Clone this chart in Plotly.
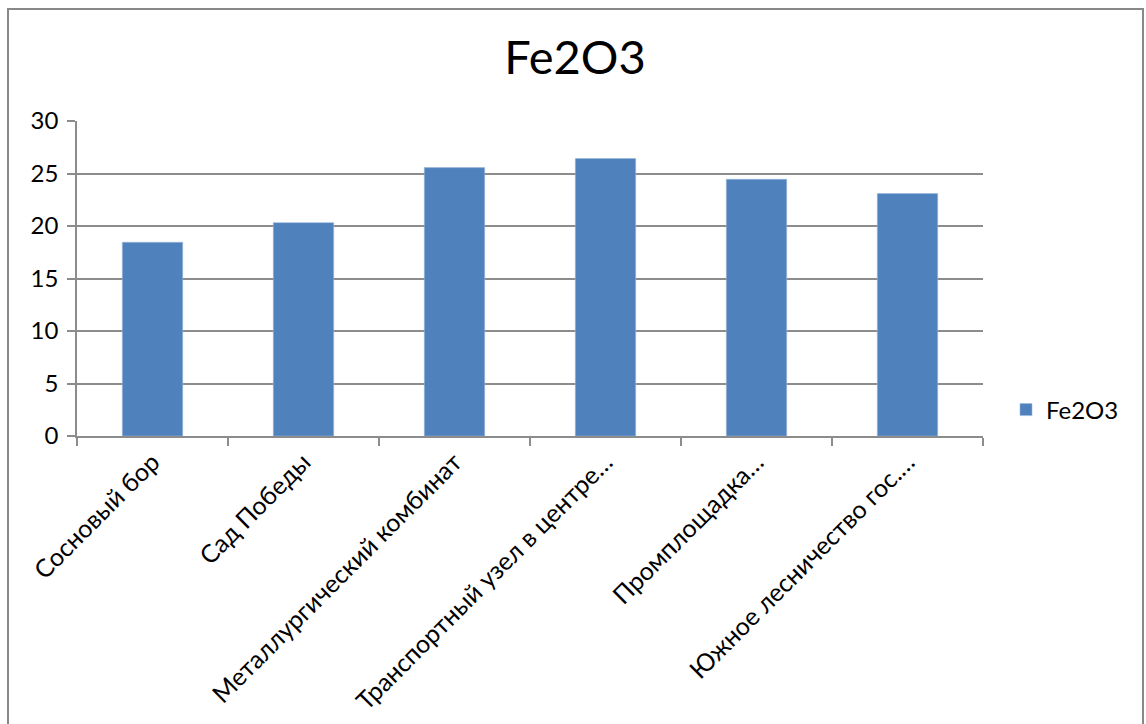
import plotly.graph_objects as go

# Fe2O3 content by sampling site
categories = [
    "Сосновый бор",
    "Сад Победы",
    "Металлургический комбинат",
    "Транспортный узел в центре…",
    "Промплощадка…",
    "Южное лесничество гос.…",
]
fe2o3 = [18.45, 20.32, 25.56, 26.42, 24.45, 23.09]
y_ticks = [0, 5, 10, 15, 20, 25, 30]

W, H = 1146, 724
ML, MR, MT, MB = 77, 163, 121, 288
pw, ph = W - ML - MR, H - MT - MB

FONT = "Lato, 'Open Sans', sans-serif"
GRID = "#8c8c8c"

fig = go.Figure()
fig.add_trace(go.Bar(
    x=categories,
    y=fe2o3,
    name="Fe2O3",
    marker=dict(color="#4f81bd", line=dict(color="#9bb7db", width=0.6)),
))

def px_x(p):
    return (p - ML) / pw

def px_y(p):
    return (H - MB - p) / ph

fig.update_layout(
    width=W, height=H,
    margin=dict(l=ML, r=MR, t=MT, b=MB, autoexpand=False),
    paper_bgcolor="white",
    plot_bgcolor="white",
    font=dict(family=FONT, size=24, color="black"),
    bargap=0.6,
    title=dict(
        text="Fe2O3",
        font=dict(family=FONT, size=47, color="black"),
        x=0.5017, xanchor="center",
        y=1 - 58 / H, yanchor="middle", yref="container",
        automargin=False,
    ),
    showlegend=True,
    legend=dict(
        x=px_x(1006), xanchor="left",
        y=px_y(410), yanchor="middle",
        font=dict(family=FONT, size=24, color="black"),
        bgcolor="rgba(0,0,0,0)",
        itemwidth=30,
    ),
    xaxis=dict(
        type="category",
        automargin=False,
        tickangle=-45,
        tickson="boundaries",
        ticks="outside", ticklen=8, tickcolor=GRID, tickwidth=1.5,
        showline=True, linecolor=GRID, linewidth=1.5,
        showgrid=False,
        tickfont=dict(family=FONT, size=25, color="black"),
    ),
    yaxis=dict(
        range=[0, 30],
        automargin=False,
        tickvals=y_ticks,
        ticks="outside", ticklen=8, tickcolor=GRID, tickwidth=1.5,
        showline=True, linecolor=GRID, linewidth=1.5,
        showgrid=True, gridcolor=GRID, gridwidth=1.5,
        zeroline=False,
        tickfont=dict(family=FONT, size=24, color="black"),
        ticklabelstandoff=4,
    ),
    shapes=[dict(
        type="rect", xref="paper", yref="paper", layer="below",
        x0=px_x(8), x1=px_x(1143), y0=px_y(760), y1=px_y(9),
        line=dict(color="#888888", width=2),
        fillcolor="rgba(0,0,0,0)",
    )],
)

fig.write_html("out.html")
